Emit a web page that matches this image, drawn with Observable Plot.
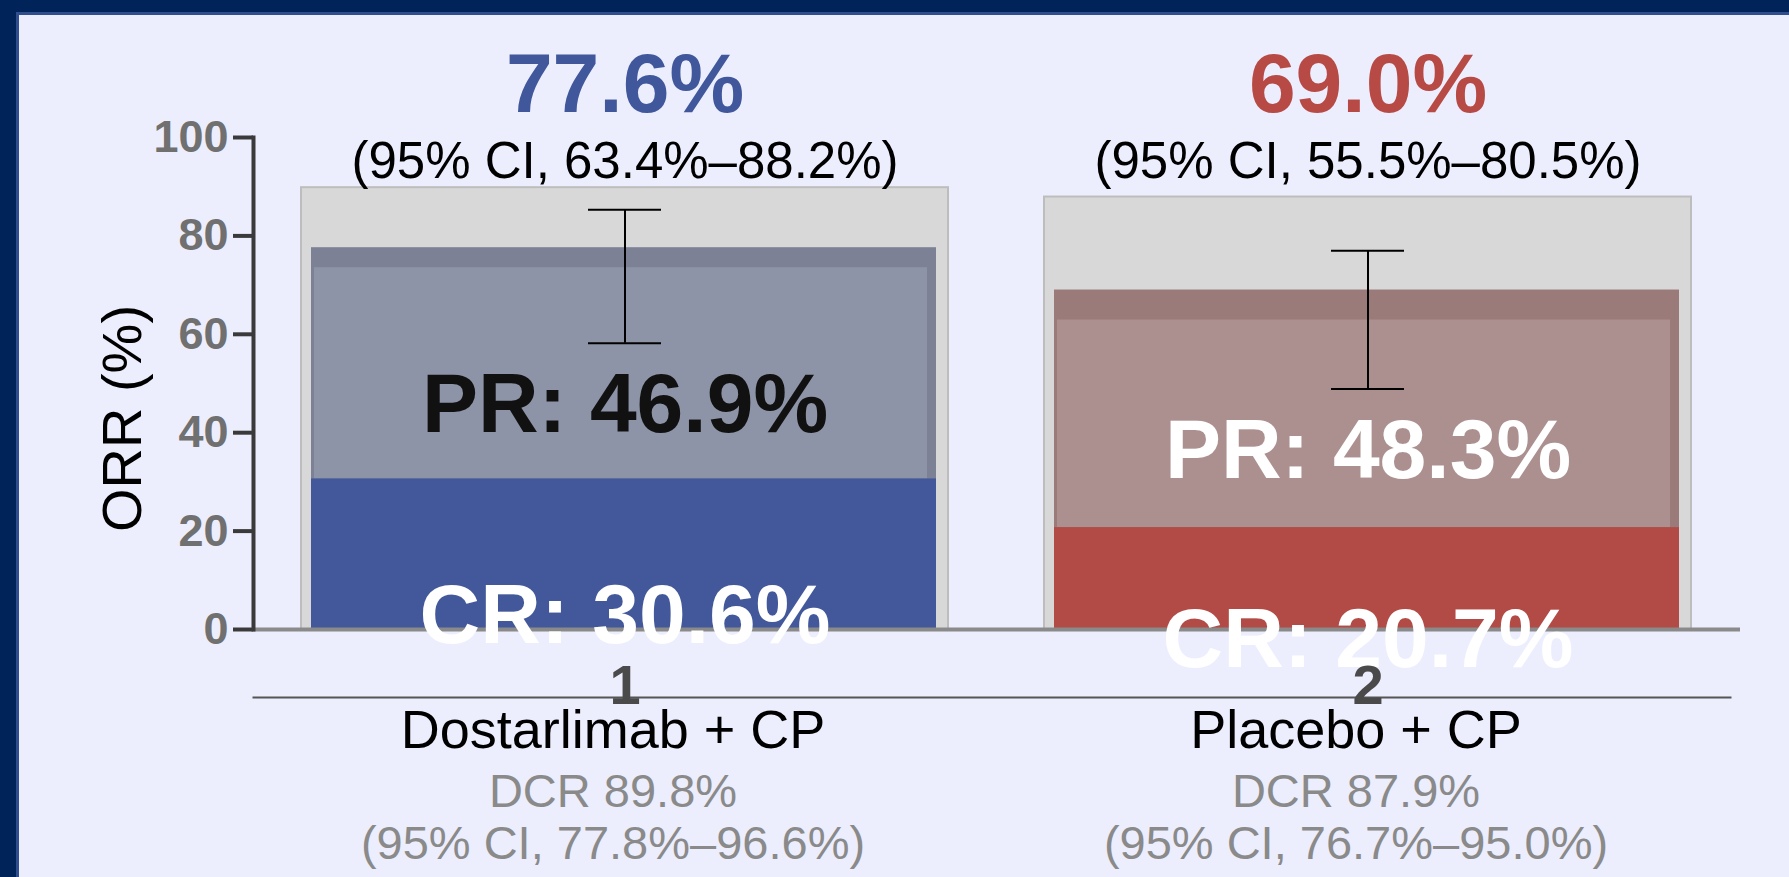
<!DOCTYPE html>
<html>
<head>
<meta charset="utf-8">
<script src="https://cdn.jsdelivr.net/npm/d3@7"></script>
<script src="https://cdn.jsdelivr.net/npm/@observablehq/plot@0.6"></script>
<style>
html, body { margin: 0; padding: 0; width: 1789px; height: 877px; overflow: hidden; background: #ECEEFD; }
#navyTop { position: absolute; left: 0; top: 0; width: 1789px; height: 12px; background: #00245A; }
#navyLeft { position: absolute; left: 0; top: 0; width: 16px; height: 877px; background: #00245A; }
#edgeTop { position: absolute; left: 16px; top: 12px; width: 1773px; height: 3px; background: #2F4E8E; }
#edgeLeft { position: absolute; left: 16px; top: 12px; width: 3px; height: 865px; background: #2F4E8E; }
#chart { position: absolute; left: 0; top: 0; }
</style>
</head>
<body>
<div id="navyTop"></div><div id="navyLeft"></div><div id="edgeTop"></div><div id="edgeLeft"></div>
<div id="chart"></div>
<script>
// ---- data ----
const arms = ["1", "2"];
const armNames = ["Dostarlimab + CP", "Placebo + CP"];
const orr = [77.6, 69.0];
const orrCI = ["(95% CI, 63.4%–88.2%)", "(95% CI, 55.5%–80.5%)"];
const cr = [30.6, 20.7];
const pr = [46.9, 48.3];
const dcr = [89.8, 87.9];
const dcrCI = ["(95% CI, 77.8%–96.6%)", "(95% CI, 76.7%–95.0%)"];
const errLow = [58.2, 48.9];
const errHigh = [85.3, 77.0];
const yTicks = [0, 20, 40, 60, 80, 100];
const yLabel = "ORR (%)";

// ---- styles ----
const palette = {
  "1": {cr: "#42589A", pr: "#8E94A7", band: "#7D8196", value: "#41579C", prText: "#111111"},
  "2": {cr: "#B24A45", pr: "#AC8F8F", band: "#9B7B79", value: "#B84A45", prText: "#FFFFFF"}
};
const bandInset = {"1": 20, "2": 30};
const font = "'Liberation Sans', Arial, Helvetica, sans-serif";

const rows = arms.map((arm, i) => ({
  arm, name: armNames[i], orr: orr[i], orrCI: orrCI[i], cr: cr[i], pr: pr[i],
  dcr: dcr[i], dcrCI: dcrCI[i], lo: errLow[i], hi: errHigh[i]
}));

const barMarks = rows.flatMap(r => [
  Plot.barY([r], {x: "arm", y1: 0, y2: "orr", fill: palette[r.arm].band, insetLeft: 10, insetRight: 12}),
  Plot.barY([r], {x: "arm", y1: "cr", y2: "orr", fill: palette[r.arm].pr, insetLeft: 13, insetRight: 21, insetTop: bandInset[r.arm]}),
  Plot.barY([r], {x: "arm", y1: 0, y2: "cr", fill: palette[r.arm].cr, insetLeft: 10, insetRight: 12})
]);

const textMarks = rows.flatMap(r => [
  Plot.text([r], {x: "arm", frameAnchor: "top", lineAnchor: "middle", dy: -52, text: d => d.orr.toFixed(1) + "%",
    fill: palette[r.arm].value, fontSize: 84, fontWeight: "bold"}),
  Plot.text([r], {x: "arm", frameAnchor: "top", lineAnchor: "middle", dy: 24, text: "orrCI", fill: "#000", fontSize: 51}),
  Plot.text([r], {x: "arm", y: d => d.cr + (d.orr - d.cr) / 2, lineAnchor: "middle", dy: 42, text: d => `PR: ${d.pr.toFixed(1)}%`,
    fill: palette[r.arm].prText, fontSize: 84, fontWeight: "bold"}),
  Plot.text([r], {x: "arm", y: d => d.cr / 2, lineAnchor: "middle", dy: 62, text: d => `CR: ${d.cr.toFixed(1)}%`,
    fill: "#FFFFFF", fontSize: 84, fontWeight: "bold"}),
  Plot.text([r], {x: "arm", frameAnchor: "bottom", lineAnchor: "middle", dy: 101, dx: -12, text: "name", fill: "#000", fontSize: 54}),
  Plot.text([r], {x: "arm", frameAnchor: "bottom", lineAnchor: "middle", dy: 162, dx: -12, text: d => `DCR ${d.dcr.toFixed(1)}%`, fill: "#8A8A8A", fontSize: 47}),
  Plot.text([r], {x: "arm", frameAnchor: "bottom", lineAnchor: "middle", dy: 214, dx: -12, text: "dcrCI", fill: "#8A8A8A", fontSize: 47})
]);

const chart = Plot.plot({
  width: 1789,
  height: 877,
  marginTop: 137,
  marginBottom: 248,
  marginLeft: 253,
  marginRight: 49,
  style: {background: "transparent", fontFamily: font, overflow: "visible"},
  x: {domain: arms, paddingInner: 0.129, paddingOuter: 0.065, label: null},
  y: {domain: [0, 100], label: null},
  marks: [
    Plot.barY(rows, {x: "arm", y1: 0, y2: "dcr", fill: "#D8D8D8", stroke: "#BDBDBD", strokeWidth: 2}),
    ...barMarks,
    Plot.ruleX(rows, {x: "arm", y1: "lo", y2: "hi", stroke: "#000", strokeWidth: 2}),
    Plot.tickY(rows, {x: "arm", y: "lo", stroke: "#000", strokeWidth: 2, insetLeft: 287, insetRight: 287}),
    Plot.tickY(rows, {x: "arm", y: "hi", stroke: "#000", strokeWidth: 2, insetLeft: 287, insetRight: 287}),
    Plot.ruleY([0], {stroke: "#8A8A8A", strokeWidth: 4}),
    Plot.frame({anchor: "left", stroke: "#3A3A3A", strokeWidth: 4}),
    Plot.axisY({ticks: yTicks, anchor: "left", tickSize: 20, tickPadding: 5, fontSize: 45, fontWeight: "bold",
      fill: "#707070", stroke: "#3A3A3A", strokeWidth: 4, label: null}),
    Plot.text([yLabel], {frameAnchor: "left", textAnchor: "middle", lineAnchor: "middle", text: d => d, rotate: -90,
      dx: -130, dy: 35, fontSize: 56, fill: "#000"}),
    Plot.frame({anchor: "bottom", dy: 68, stroke: "#555555", strokeWidth: 2, insetRight: 10}),
    ...textMarks,
    Plot.axisX({tickSize: 0, tickPadding: 35, fontSize: 56, fontWeight: "bold", fill: "#4A4A4A", label: null})
  ]
});
document.getElementById("chart").appendChild(chart);
</script>
</body>
</html>
